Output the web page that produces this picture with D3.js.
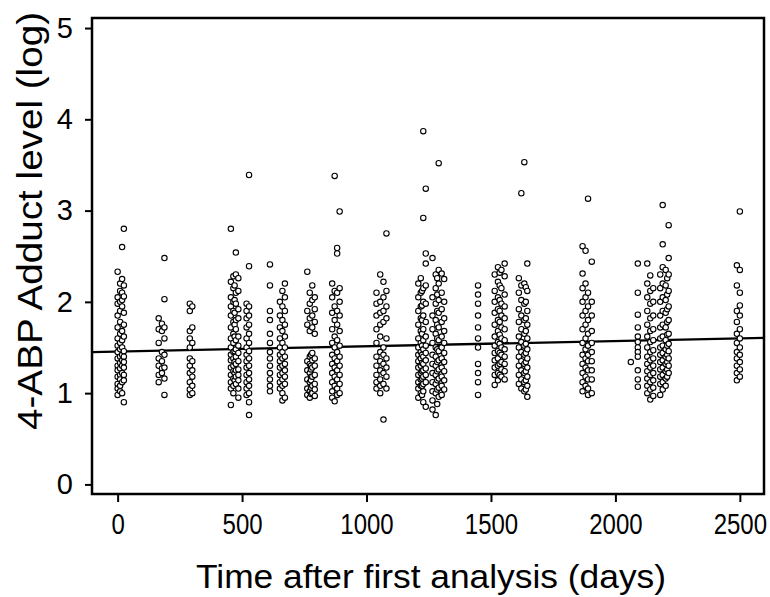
<!DOCTYPE html>
<html>
<head>
<meta charset="utf-8">
<script src="https://cdn.jsdelivr.net/npm/d3@7"></script>
<style>
  body { margin: 0; background: #fff; }
  svg text { font-family: "Liberation Sans", Arial, sans-serif; fill: #000; }
</style>
</head>
<body>
<svg id="chart" width="770" height="597"></svg>
<script>
// measurement columns: [day, [log adduct values...]]
var clusterA = [
    [0, [2.33, 2.05, 1.98, 1.85, 1.72, 1.6, 1.52, 1.45, 1.38, 1.3, 1.25, 1.18, 1.1, 1.05, 0.98]],
    [10, [2.2, 2.12, 2.0, 1.9, 1.78, 1.65, 1.55, 1.48, 1.4, 1.33, 1.27, 1.2, 1.15, 1.08, 1.02]],
    [18, [2.6, 2.25, 2.1, 2.02, 1.95, 1.68, 1.58, 1.5, 1.42, 1.36, 1.3, 1.22, 1.12, 1.0]],
    [25, [2.8, 2.18, 2.06, 1.88, 1.75, 1.62, 1.46, 1.4, 1.34, 1.28, 1.2, 1.14, 0.9]]
];
var clusterB = [
    [165, [1.82, 1.7, 1.55, 1.38, 1.3, 1.2, 1.12]],
    [178, [1.76, 1.68, 1.45, 1.35, 1.27, 1.22]],
    [188, [2.48, 2.03, 1.72, 1.6, 1.42, 1.28, 1.16, 0.98]]
];
var clusterC = [
    [290, [1.98, 1.9, 1.68, 1.6, 1.5, 1.38, 1.3, 1.22, 1.12, 1.04, 0.98]],
    [300, [1.95, 1.72, 1.55, 1.35, 1.25, 1.18, 1.08, 1.0]]
];
var clusterD = [
    [455, [2.8, 2.22, 2.05, 1.95, 1.85, 1.72, 1.6, 1.5, 1.42, 1.36, 1.28, 1.2, 1.12, 1.05, 0.87]],
    [465, [2.28, 2.15, 2.0, 1.9, 1.78, 1.65, 1.55, 1.45, 1.38, 1.3, 1.24, 1.16, 1.08, 1.0]],
    [470, [2.18, 2.02, 1.88, 1.75, 1.62, 1.46, 1.34, 1.22, 1.14]],
    [475, [2.54, 2.3, 2.1, 1.98, 1.8, 1.7, 1.58, 1.48, 1.4, 1.32, 1.25, 1.18, 1.1]],
    [485, [2.26, 2.12, 1.92, 1.82, 1.62, 1.52, 1.44, 1.35, 1.26, 1.2, 1.14, 1.05, 0.95]]
];
var clusterE = [
    [518, [1.98, 1.9, 1.82, 1.72, 1.6, 1.5, 1.42, 1.35, 1.28, 1.2, 1.12, 1.05, 0.98]],
    [528, [3.39, 2.39, 1.95, 1.85, 1.75, 1.65, 1.55, 1.46, 1.38, 1.3, 1.22, 1.15, 1.08, 1.0, 0.9, 0.76]]
];
var clusterF = [
    [612, [2.41, 2.18, 1.9, 1.8, 1.65, 1.55, 1.45, 1.38, 1.3, 1.22, 1.15, 1.08, 1.02]]
];
var clusterG = [
    [652, [2.0, 1.85, 1.72, 1.6, 1.5, 1.42, 1.35, 1.28, 1.2, 1.12, 1.05]],
    [662, [2.12, 1.95, 1.8, 1.68, 1.55, 1.45, 1.38, 1.3, 1.22, 1.15, 1.08, 1.0, 0.92]],
    [672, [2.2, 2.05, 1.9, 1.75, 1.62, 1.5, 1.4, 1.32, 1.25, 1.18, 1.1, 0.95]]
];
var clusterH = [
    [762, [2.33, 1.9, 1.75, 1.35, 1.25, 1.15, 1.05, 0.98]],
    [772, [2.1, 1.98, 1.82, 1.68, 1.4, 1.32, 1.22, 1.12, 1.02, 0.95]],
    [777, [1.42, 1.3, 1.26, 1.18, 1.14, 1.06, 0.99]],
    [782, [2.18, 2.02, 1.85, 1.72, 1.44, 1.36, 1.28, 1.18, 1.08, 1.0]],
    [792, [2.05, 1.92, 1.78, 1.65, 1.38, 1.3, 1.2, 1.1, 1.04, 0.97]]
];
var clusterI = [
    [862, [2.2, 2.05, 1.88, 1.7, 1.55, 1.42, 1.32, 1.22, 1.12, 1.02, 0.95]],
    [872, [3.38, 2.12, 1.95, 1.8, 1.62, 1.5, 1.38, 1.28, 1.18, 1.08, 0.91]],
    [882, [2.59, 2.53, 2.1, 1.9, 1.75, 1.58, 1.45, 1.35, 1.25, 1.15, 1.05, 0.98]],
    [892, [2.99, 2.15, 2.0, 1.85, 1.68, 1.52, 1.4, 1.3, 1.2, 1.1, 1.0]]
];
var clusterJ = [
    [1040, [2.1, 1.98, 1.85, 1.7, 1.55, 1.4, 1.3, 1.2, 1.12, 1.05]],
    [1055, [2.3, 2.0, 1.88, 1.75, 1.62, 1.45, 1.35, 1.25, 1.15, 1.08, 1.0]],
    [1068, [2.22, 2.05, 1.9, 1.78, 1.5, 1.42, 1.32, 1.22, 1.1, 0.71]],
    [1080, [2.75, 2.12, 1.95, 1.82, 1.6, 1.38, 1.28, 1.18, 1.05]]
];
var clusterK = [
    [1208, [2.2, 2.05, 1.9, 1.75, 1.6, 1.5, 1.42, 1.35, 1.28, 1.2, 1.12, 1.05, 0.95]],
    [1218, [2.26, 2.1, 1.95, 1.82, 1.68, 1.55, 1.45, 1.38, 1.3, 1.22, 1.15, 1.08, 1.0]],
    [1223, [2.12, 1.96, 1.8, 1.65, 1.52, 1.42, 1.33, 1.24, 1.16, 1.08, 0.98]],
    [1228, [3.87, 2.92, 2.15, 2.0, 1.85, 1.7, 1.58, 1.48, 1.4, 1.32, 1.25, 1.18, 1.1, 1.02, 0.9]],
    [1238, [3.24, 2.53, 2.42, 2.18, 1.98, 1.78, 1.62, 1.52, 1.44, 1.36, 1.27, 1.2, 1.12, 0.85]]
];
var clusterL = [
    [1265, [2.48, 2.05, 1.85, 1.7, 1.55, 1.42, 1.32, 1.22, 1.12, 1.02, 0.92, 0.82]],
    [1278, [2.3, 2.15, 1.98, 1.8, 1.65, 1.5, 1.4, 1.3, 1.2, 1.1, 1.0, 0.76]],
    [1284, [2.26, 2.08, 1.9, 1.75, 1.6, 1.48, 1.34, 1.24, 1.14, 1.04, 0.88]],
    [1290, [3.52, 2.35, 2.2, 2.02, 1.88, 1.72, 1.58, 1.46, 1.36, 1.26, 1.16, 1.06, 0.96]],
    [1302, [2.31, 2.1, 1.92, 1.78, 1.62, 1.5, 1.38, 1.28, 1.18, 1.08, 0.98]],
    [1312, [2.25, 2.0, 1.82, 1.68, 1.55, 1.44, 1.34, 1.24, 1.14, 1.04]]
];
var clusterM = [
    [1448, [2.18, 2.08, 1.98, 1.85, 1.72, 1.6, 1.5, 1.32, 1.22, 1.12, 0.98]]
];
var clusterN = [
    [1515, [2.3, 2.12, 2.0, 1.88, 1.75, 1.62, 1.52, 1.44, 1.36, 1.28, 1.2, 1.09]],
    [1528, [2.38, 2.22, 2.05, 1.92, 1.8, 1.68, 1.56, 1.46, 1.38, 1.3, 1.22, 1.14]],
    [1535, [2.32, 2.18, 2.02, 1.9, 1.78, 1.64, 1.54, 1.44, 1.32, 1.2]],
    [1542, [2.35, 2.15, 1.98, 1.85, 1.72, 1.6, 1.5, 1.42, 1.34, 1.26, 1.18]],
    [1555, [2.42, 2.28, 2.08, 1.95, 1.82, 1.7, 1.58, 1.48, 1.4, 1.32, 1.24, 1.15]]
];
var clusterO = [
    [1612, [2.26, 2.1, 1.92, 1.78, 1.62, 1.5, 1.4, 1.3, 1.2, 1.1]],
    [1622, [3.19, 2.18, 2.02, 1.85, 1.7, 1.56, 1.45, 1.35, 1.25, 1.15, 1.05]],
    [1634, [3.53, 2.2, 1.98, 1.8, 1.65, 1.52, 1.42, 1.32, 1.22, 1.12, 1.02]],
    [1640, [2.16, 2.0, 1.82, 1.68, 1.54, 1.44, 1.34, 1.24, 1.14, 1.04]],
    [1646, [2.42, 2.12, 1.9, 1.75, 1.6, 1.48, 1.38, 1.28, 1.18, 1.08, 0.96]]
];
var clusterP = [
    [1868, [2.61, 2.31, 2.15, 2.0, 1.85, 1.7, 1.55, 1.42, 1.32, 1.22, 1.12, 1.02]],
    [1880, [2.56, 2.2, 2.05, 1.9, 1.75, 1.6, 1.48, 1.38, 1.28, 1.18, 1.08]],
    [1890, [3.13, 2.1, 1.95, 1.8, 1.65, 1.52, 1.42, 1.35, 1.25, 1.15, 1.05, 0.98]],
    [1905, [2.44, 2.0, 1.85, 1.68, 1.55, 1.45, 1.35, 1.25, 1.15, 1.0]]
];
var clusterQ = [
    [2062, [1.34]],
    [2090, [2.42, 2.1, 1.86, 1.72, 1.62, 1.56, 1.5, 1.45, 1.4, 1.25, 1.15, 1.07]]
];
var clusterR = [
    [2128, [2.42, 2.2, 2.05, 1.9, 1.75, 1.62, 1.5, 1.4, 1.32, 1.24, 1.16, 1.08, 1.0]],
    [2140, [2.29, 2.12, 1.98, 1.82, 1.68, 1.56, 1.45, 1.36, 1.28, 1.2, 1.12, 1.04, 0.93]],
    [2152, [2.15, 2.0, 1.85, 1.7, 1.58, 1.47, 1.38, 1.3, 1.22, 1.14, 1.06, 0.97]]
];
var clusterS = [
    [2180, [2.3, 2.15, 2.0, 1.85, 1.72, 1.6, 1.5, 1.42, 1.34, 1.26, 1.18, 1.1, 0.98]],
    [2190, [3.06, 2.63, 2.38, 2.2, 2.05, 1.9, 1.75, 1.62, 1.52, 1.44, 1.36, 1.28, 1.2, 1.12, 1.04]],
    [2202, [2.35, 2.18, 2.02, 1.88, 1.72, 1.58, 1.48, 1.4, 1.32, 1.24, 1.16, 1.08]],
    [2208, [2.26, 2.08, 1.92, 1.78, 1.64, 1.52, 1.42, 1.34, 1.26, 1.18]],
    [2214, [2.84, 2.48, 2.3, 2.12, 1.95, 1.8, 1.65, 1.54, 1.46, 1.38, 1.3, 1.22]]
];
var clusterT = [
    [2488, [2.4, 2.18, 1.9, 1.78, 1.65, 1.55, 1.45, 1.38, 1.3, 1.22, 1.14]],
    [2500, [2.99, 2.35, 2.1, 1.96, 1.85, 1.7, 1.6, 1.5, 1.42, 1.34, 1.26, 1.18]]
];

// fitted regression line: intercept and slope per day
var fitIntercept = 1.455;
var fitSlope = 0.000058;

var xTicks = [0, 500, 1000, 1500, 2000, 2500];
var yTicks = [0, 1, 2, 3, 4, 5];

var allClusters = [clusterA, clusterB, clusterC, clusterD, clusterE, clusterF, clusterG,
    clusterH, clusterI, clusterJ, clusterK, clusterL, clusterM, clusterN, clusterO,
    clusterP, clusterQ, clusterR, clusterS, clusterT];

var points = [];
allClusters.forEach(function(cl) {
    cl.forEach(function(col) {
        col[1].forEach(function(v) { points.push({ day: col[0], value: v }); });
    });
});

var svg = d3.select("svg#chart");
var margin = { top: 18, right: 6, bottom: 103, left: 92 };
var width = 770 - margin.left - margin.right,
    height = 597 - margin.top - margin.bottom;

var x = d3.scaleLinear().domain([-103, 2597]).range([0, width]);
var y = d3.scaleLinear().domain([-0.105, 5.11]).range([height, 0]);

var g = svg.append("g")
    .attr("transform", "translate(" + margin.left + "," + margin.top + ")");

// axes
var xAxis = g.append("g")
    .attr("transform", "translate(0," + height + ")")
    .call(d3.axisBottom(x).tickValues(xTicks).tickSize(8).tickPadding(11).tickFormat(d3.format("d")));
var yAxis = g.append("g")
    .call(d3.axisLeft(y).tickValues(yTicks).tickSize(7).tickPadding(12).tickFormat(d3.format("d")));

[xAxis, yAxis].forEach(function(a) {
    a.select(".domain").remove();
    a.selectAll(".tick line").attr("stroke", "#000").attr("stroke-width", 2);
});
yAxis.selectAll(".tick text").style("font-size", "29px");
xAxis.selectAll(".tick text")
    .style("font-size", "30px")
    .attr("transform", "scale(0.8,1)");

// frame
g.append("rect")
    .attr("width", width)
    .attr("height", height)
    .attr("fill", "none")
    .attr("stroke", "#000")
    .attr("stroke-width", 2.5);

// regression line
g.append("line")
    .attr("x1", x(-103)).attr("y1", y(fitIntercept + fitSlope * -103))
    .attr("x2", x(2597)).attr("y2", y(fitIntercept + fitSlope * 2597))
    .attr("stroke", "#000")
    .attr("stroke-width", 2.3);

g.append("g")
    .selectAll("circle")
    .data(points)
    .enter().append("circle")
    .attr("cx", function(d) { return x(d.day); })
    .attr("cy", function(d) { return y(d.value); })
    .attr("r", 2.7)
    .attr("fill", "#fff")
    .attr("stroke", "#000")
    .attr("stroke-width", 1.1);

// titles
svg.append("text")
    .attr("x", 431)
    .attr("y", 588)
    .attr("text-anchor", "middle")
    .attr("textLength", 470)
    .attr("lengthAdjust", "spacingAndGlyphs")
    .style("font-size", "33px")
    .text("Time after first analysis (days)");

svg.append("text")
    .attr("transform", "translate(42,221) rotate(-90)")
    .attr("text-anchor", "middle")
    .attr("textLength", 418)
    .attr("lengthAdjust", "spacingAndGlyphs")
    .style("font-size", "35px")
    .text("4-ABP Adduct level (log)");
</script>
</body>
</html>
